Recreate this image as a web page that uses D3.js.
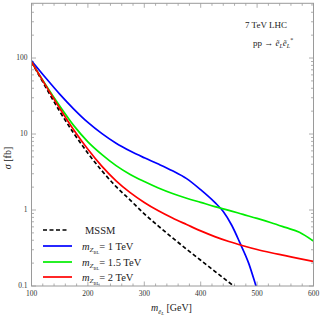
<!DOCTYPE html>
<html><head><meta charset="utf-8">
<script src="https://cdn.jsdelivr.net/npm/d3@7"></script>
<style>body{margin:0;background:#fff}svg{display:block}text{font-family:"Liberation Serif","DejaVu Serif",serif}</style>
</head><body>
<svg id="c" width="320" height="317"></svg>
<script>
// ---- data (m in GeV, sigma in fb) ----
const mssmMass = [100,125,150,175,200,225,250,275,300,325,350,375,400,425,450,475];
const mssmXs   = [89,41.6,19.9,10.2,5.6,3.27,2.03,1.35,0.89,0.615,0.43,0.305,0.218,0.156,0.112,0.081];
const blueMass = [100,125,150,175,200,225,250,275,300,325,350,375,400,425,440,455,470,485,498,505];
const blueXs   = [92,55,33.5,21.3,14.2,10.1,7.55,5.96,4.86,4.02,3.28,2.59,1.85,1.26,0.955,0.63,0.363,0.2,0.1,0.068];
const gridMass = [100,125,150,175,200,225,250,275,300,325,350,375,400,425,450,475,500,525,550,575,600];
const greenXs  = [89,44.6,23.4,12.9,7.9,5.36,3.84,2.94,2.37,1.95,1.65,1.43,1.26,1.11,0.99,0.875,0.775,0.68,0.59,0.51,0.39];
const redXs    = [89,43.6,21.8,11.3,6.3,3.75,2.42,1.69,1.256,0.975,0.783,0.644,0.531,0.447,0.385,0.339,0.302,0.274,0.251,0.229,0.21];
const xTicks = [100,200,300,400,500,600];
const yTicks = [0.1,1,10,100];
const yTickLabels = ["0.1","1","10","100"];
const legendNames = ["MSSM","1 TeV","1.5 TeV","2 TeV"];

const series = [
  {mass: mssmMass, xs: mssmXs, color: "#000", dash: "4,2.5"},
  {mass: blueMass, xs: blueXs, color: "#0000ff", dash: null},
  {mass: gridMass, xs: greenXs, color: "#00ee00", dash: null},
  {mass: gridMass, xs: redXs, color: "#ff0000", dash: null}
];

const svg = d3.select("#c");
const L = 31.5, R = 313.5, T = 3.3, B = 286;
const x = d3.scaleLinear().domain([100,600]).range([L,R]);
const y = d3.scaleLog().domain([0.1,525]).range([B,T]);
const frame = "#9a9a9a";

svg.append("defs").append("clipPath").attr("id","clip")
  .append("rect").attr("x",L).attr("y",T).attr("width",R-L).attr("height",B-T);

// ticks
const tg = svg.append("g").attr("stroke",frame).attr("stroke-width",0.8);
const xMinor = d3.range(100,601,20);
xMinor.forEach(v=>{
  const major = v%100===0, len = major?4.5:2.5, px = x(v);
  tg.append("line").attr("x1",px).attr("x2",px).attr("y1",B).attr("y2",B-len);
  tg.append("line").attr("x1",px).attr("x2",px).attr("y1",T).attr("y2",T+len);
});
const yMinor = [];
[0.1,1,10,100].forEach(d=>{ for(let k=1;k<=9;k++){ const v=d*k; if(v<=525) yMinor.push(v);} });
yMinor.forEach(v=>{
  const major = yTicks.includes(v), len = major?4.5:2.5, py = y(v);
  tg.append("line").attr("y1",py).attr("y2",py).attr("x1",L).attr("x2",L+len);
  tg.append("line").attr("y1",py).attr("y2",py).attr("x1",R).attr("x2",R-len);
});

// curves
const line = d3.line().curve(d3.curveMonotoneX);
const cg = svg.append("g").attr("clip-path","url(#clip)");
series.forEach(s=>{
  const pts = s.mass.map((m,i)=>[x(m), y(s.xs[i])]);
  const p = cg.append("path").attr("d",line(pts)).attr("fill","none")
    .attr("stroke",s.color).attr("stroke-width",1.7);
  if(s.dash) p.attr("stroke-dasharray",s.dash);
});

// frame
svg.append("rect").attr("x",L).attr("y",T).attr("width",R-L).attr("height",B-T)
  .attr("fill","none").attr("stroke",frame).attr("stroke-width",1);

// tick labels
const lab = svg.append("g").attr("fill","#333").attr("font-size","7.5px");
xTicks.forEach(v=>{
  lab.append("text").attr("x",x(v)).attr("y",B+10).attr("text-anchor","middle").text(v);
});
yTicks.forEach((v,i)=>{
  lab.append("text").attr("x",L-4).attr("y",y(v)+1.5).attr("text-anchor","end").text(yTickLabels[i]);
});

// axis titles
const yl = svg.append("text").attr("transform","translate(11,158) rotate(-90)")
  .attr("text-anchor","middle").attr("font-size","10px").attr("fill","#222");
yl.append("tspan").attr("font-style","italic").text("σ");
yl.append("tspan").text(" [fb]");

const xl = svg.append("text").attr("x",151).attr("y",311).attr("font-size","10px").attr("fill","#222");
xl.append("tspan").attr("font-style","italic").text("m");
xl.append("tspan").attr("font-style","italic").attr("font-size","6.5px").attr("dy",2.5).text("ẽ");
xl.append("tspan").attr("font-style","italic").attr("font-size","5px").attr("dy",1.5).text("L");
xl.append("tspan").attr("dy",-4).text(" [GeV]");

// top-right labels
svg.append("text").attr("x",287).attr("y",28).attr("text-anchor","end")
  .attr("font-size","9px").attr("fill","#222").text("7 TeV LHC");
const pp = svg.append("text").attr("x",253).attr("y",46).attr("font-size","9px").attr("fill","#222");
pp.append("tspan").text("pp → ");
pp.append("tspan").attr("font-style","italic").text("ẽ");
pp.append("tspan").attr("font-style","italic").attr("font-size","6px").attr("dy",2).text("L");
pp.append("tspan").attr("font-style","italic").attr("dy",-2).text("ẽ");
pp.append("tspan").attr("font-style","italic").attr("font-size","6px").attr("dy",2).text("L");
pp.append("tspan").attr("font-size","6px").attr("dy",-6).text("*");

// legend
const legY = [230,246,262,277];
const lg = svg.append("g");
series.forEach((s,i)=>{
  const ln = lg.append("line").attr("x1",43).attr("x2",i===0?68:72)
    .attr("y1",legY[i]).attr("y2",legY[i]).attr("stroke",s.color).attr("stroke-width",1.7);
  if(s.dash) ln.attr("stroke-dasharray",s.dash);
  const t = lg.append("text").attr("y",legY[i]+3.5).attr("font-size","10.5px").attr("fill","#222");
  if(i===0){
    t.attr("x",85).text(legendNames[0]);
  } else {
    t.attr("x",82);
    t.append("tspan").attr("font-style","italic").text("m");
    t.append("tspan").attr("font-style","italic").attr("font-size","7px").attr("dy",2.5).text("Z");
    t.append("tspan").attr("font-size","4.5px").attr("dy",1.5).text("BL");
    t.append("tspan").attr("dy",-4).text("= " + legendNames[i]);
  }
});
</script>
</body></html>
